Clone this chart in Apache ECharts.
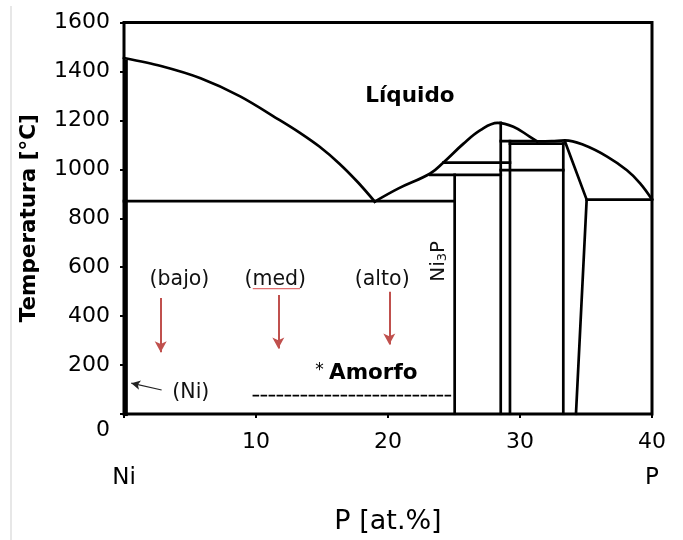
<!DOCTYPE html>
<html>
<head>
<meta charset="utf-8">
<script src="https://cdn.jsdelivr.net/npm/echarts@6/dist/echarts.min.js"></script>
<style>html,body{margin:0;padding:0;background:#fff;}#c{width:683px;height:540px;}</style>
</head>
<body>
<div id="c"></div>
<script>
// ---- data (at.% P, temperature °C) ----
const xTicks = [0, 10, 20, 30, 40];
const yTicks = [0, 200, 400, 600, 800, 1000, 1200, 1400, 1600];
const endLabels = ['Ni', 'P'];

const liquidusNi = [[0,1455],[2.8,1422],[5.8,1372],[8.8,1298],[11.8,1201],[13.3,1150],[14.8,1093],[16.3,1024],[17.7,948],[19.0,868]];
const liquidusMid = [[19.0,868],[20.8,922],[23.2,983],[24.2,1028],[25.7,1104],[27.0,1160],[28.3,1190],[29.5,1174],[30.7,1135],[31.3,1114]];
const liquidusP = [[31.3,1114],[32.4,1115],[33.4,1118],[34.8,1100],[36.6,1052],[38.1,996],[39.1,943],[40,877]];

const niSolvus = [[0.12,1440],[0.12,0]];
const eutecticNi = [[0,870],[25,870]];
const eutecticP = [[35.05,876],[40,876]];
const h977 = [[23.2,977],[28.54,977]];
const h1027 = [[24.2,1027],[29.24,1027]];
const h997 = [[28.54,997],[33.28,997]];
const h1115 = [[28.54,1115],[31.1,1115]];
const h1105 = [[29.24,1105],[33.28,1105]];
const vNi3P = [[25.05,977],[25.05,0]];
const v285 = [[28.54,1190],[28.54,0]];
const v292 = [[29.24,1115],[29.24,0]];
const v333 = [[33.28,1105],[33.28,0]];
const pSolvus = [[33.4,1115],[35.05,876],[34.24,0]];
const amorphLimit = [[9.8,75],[24.8,75]];
const medUnderline = [[9.8,512],[13.3,512]];

// arrows: [x1, y1, x2, y2]
const redArrows = [[2.78,474,2.78,252],[11.69,486,11.69,268],[20.1,500,20.1,284]];
const niArrow = [[2.85,98,0.55,126]];

// text labels: [x, y, text]
const plainTexts = [[4.24,548,'(bajo)'],[11.5,548,'(med)'],[19.6,548,'(alto)'],[5.1,86,'(Ni)']];
const boldTexts = [[21.7,1295,'Líquido']];
const amorfoText = [[18.4,165,'Amorfo']];
const ni3pText = [[23.85,622,'Ni3P']];

const FONT = 'DejaVu Sans, Verdana, sans-serif';
const INK = '#000';

function lineSeries(data, opts) {
  opts = opts || {};
  return {
    type: 'line', data: data, symbol: 'none', silent: true,
    smooth: opts.smooth || false,
    lineStyle: { color: opts.color || '#000', width: opts.width || 2.7, type: opts.type || 'solid', cap: 'square' },
    z: opts.z || 3, animation: false
  };
}
function textSeries(data, style) {
  return {
    type: 'scatter', data: data, symbolSize: 1, itemStyle: { color: 'rgba(0,0,0,0)', opacity: 1 }, silent: true,
    label: Object.assign({ show: true, position: [0, 0], align: 'center', verticalAlign: 'middle', opacity: 1,
      formatter: p => p.data[2], fontFamily: FONT, textBorderWidth: 0 }, style),
    z: 5, animation: false
  };
}
function arrowSeries(arr, color, width, size) {
  return {
    type: 'line', data: [], silent: true, animation: false,
    markLine: {
      silent: true, animation: false, symbol: ['none', 'arrow'], symbolSize: size,
      label: { show: false },
      lineStyle: { color: color, width: width, type: 'solid', opacity: 1 },
      data: arr.map(a => [{ coord: [a[0], a[1]] }, { coord: [a[2], a[3]] }])
    }
  };
}

const chart = echarts.init(document.getElementById('c'), null, { renderer: 'canvas' });
chart.setOption({
  animation: false,
  backgroundColor: '#fff',
  grid: { left: 124, right: 31, top: 22.5, bottom: 126, show: true, borderColor: '#000', borderWidth: 3, backgroundColor: 'transparent' },
  xAxis: [{
    type: 'value', min: xTicks[0], max: xTicks[xTicks.length - 1], interval: 10,
    axisLine: { show: false }, splitLine: { show: false },
    axisTick: { show: true, length: 4, lineStyle: { color: '#000', width: 2 } },
    axisLabel: { fontSize: 22, color: INK, margin: 17, fontFamily: FONT, formatter: v => (v === 0 ? '' : String(v)) },
    name: 'P [at.%]', nameLocation: 'middle', nameGap: 94,
    nameTextStyle: { fontSize: 27, color: INK, fontFamily: FONT }
  }, {
    type: 'value', min: 0, max: 40, interval: 40, position: 'bottom', offset: 45,
    axisLine: { show: false }, axisTick: { show: false }, splitLine: { show: false },
    axisLabel: { fontSize: 23, color: INK, fontFamily: FONT, formatter: v => (v === 0 ? endLabels[0] : endLabels[1]) }
  }],
  yAxis: {
    type: 'value', min: yTicks[0], max: yTicks[yTicks.length - 1], interval: 200,
    axisLine: { show: false }, splitLine: { show: false },
    axisTick: { show: true, length: 4, lineStyle: { color: '#000', width: 2 } },
    axisLabel: {
      fontSize: 22, color: INK, margin: 14, fontFamily: FONT,
      formatter: v => (v === 0 ? '{z|0}' : String(v)),
      rich: { z: { fontSize: 22, color: INK, fontFamily: FONT, padding: [32, 0, 0, 0] } }
    },
    name: 'Temperatura [°C]', nameLocation: 'middle', nameGap: 84,
    nameTextStyle: { fontSize: 21.5, fontWeight: 'bold', color: INK, fontFamily: FONT }
  },
  graphic: [{ type: 'line', shape: { x1: 11, y1: 6, x2: 11, y2: 540 }, style: { stroke: '#cfcfcf', lineWidth: 1 }, silent: true }],
  series: [
    lineSeries(liquidusNi, { smooth: 0.3 }),
    lineSeries(liquidusMid, { smooth: 0.4 }),
    lineSeries(liquidusP, { smooth: 0.4 }),
    lineSeries(niSolvus, { width: 4.5 }),
    lineSeries(eutecticNi), lineSeries(eutecticP),
    lineSeries(h977), lineSeries(h1027), lineSeries(h997), lineSeries(h1115), lineSeries(h1105),
    lineSeries(vNi3P), lineSeries(v285), lineSeries(v292), lineSeries(v333),
    lineSeries(pSolvus),
    lineSeries(amorphLimit, { width: 1.6, type: [5, 3] }),
    lineSeries(medUnderline, { width: 1.2, color: '#e07070', type: [2, 1] }),
    arrowSeries(redArrows, '#c0504d', 2, [9, 11]),
    arrowSeries(niArrow, '#222', 1.2, [7, 9]),
    textSeries(plainTexts, { fontSize: 20.5, color: '#111' }),
    textSeries(boldTexts, { fontSize: 21.5, color: INK, fontWeight: 'bold' }),
    textSeries(amorfoText, { fontSize: 21, color: INK, formatter: p => '{s|* }{b|' + p.data[2] + '}',
      rich: { s: { fontSize: 17, color: INK, fontFamily: FONT, padding: [0, 0, 6, 0] }, b: { fontSize: 21.5, fontWeight: 'bold', color: INK, fontFamily: FONT } } }),
    textSeries(ni3pText, { fontSize: 20, color: '#111', rotate: 90, formatter: p => '{n|Ni}{s|3}{n|P}',
      rich: { n: { fontSize: 20, color: '#111', fontFamily: FONT }, s: { fontSize: 13, color: '#111', fontFamily: FONT, padding: [8, 0, 0, 0] } } })
  ]
});
</script>
</body>
</html>
